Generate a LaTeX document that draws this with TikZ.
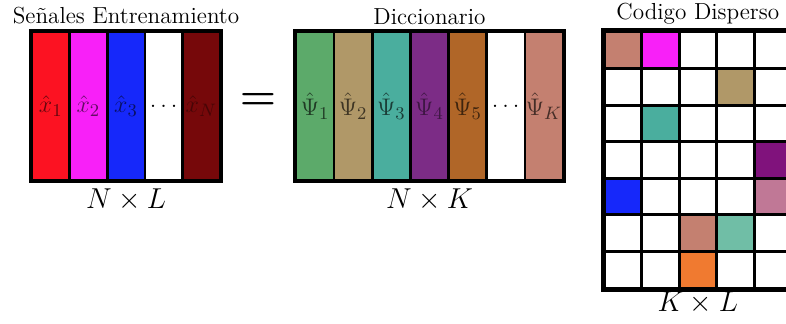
\documentclass[tikz,border=0pt]{standalone}
\usetikzlibrary{positioning}
\usepackage{amsmath,amssymb}
% training signals
\definecolor{sred}{RGB}{252,18,34}
\definecolor{smag}{RGB}{248,32,248}
\definecolor{sblue}{RGB}{22,40,250}
\definecolor{sdark}{RGB}{118,8,10}
% dictionary atoms
\definecolor{dgreen}{RGB}{92,170,106}
\definecolor{dkhaki}{RGB}{176,152,104}
\definecolor{dteal}{RGB}{74,174,158}
\definecolor{dpurple}{RGB}{124,44,134}
\definecolor{dorange}{RGB}{176,102,40}
\definecolor{dsalmon}{RGB}{196,128,112}
% sparse code entries
\definecolor{gpurple}{RGB}{128,18,124}
\definecolor{gpink}{RGB}{192,120,150}
\definecolor{glteal}{RGB}{112,190,166}
\definecolor{gorange}{RGB}{240,122,48}
\tikzset{
  sigcol/.style={draw,line width=1.3pt,minimum width=18.8pt,minimum height=74pt,inner sep=0pt,
    font=\fontsize{13}{15}\selectfont},
  dictcol/.style={sigcol,minimum width=19.07pt},
  cell/.style={draw,line width=1.5pt,fill=white,minimum width=18.75pt,minimum height=18.3pt,inner sep=0pt},
  frame/.style={line width=2pt},
  ttl/.style={font=\fontsize{11.6}{13}\selectfont,inner sep=0pt},
  dimlab/.style={font=\Large,inner sep=0pt},
  code 1-1/.style={fill=dsalmon},
  code 1-2/.style={fill=smag},
  code 2-4/.style={fill=dkhaki},
  code 3-2/.style={fill=dteal},
  code 4-5/.style={fill=gpurple},
  code 5-1/.style={fill=sblue},
  code 5-5/.style={fill=gpink},
  code 6-3/.style={fill=dsalmon},
  code 6-4/.style={fill=glteal},
  code 7-3/.style={fill=gorange},
}

\begin{document}
\begin{tikzpicture}[x=0.5pt,y=-0.5pt]
\useasboundingbox (0,0) rectangle (786,324);

% X = training signals
\foreach \col/\tc/\lab [count=\i] in {sred/sred!40!black/\hat{x}_1,smag/smag!40!black/\hat{x}_2,sblue/sblue!40!black/\hat{x}_3,white/black/\ldots,sdark/sdark!60!black/\hat{x}_N}
  \node[sigcol,fill=\col,text=\tc] (s\i) at (13.2+37.6*\i,106) {$\lab$};
\draw[frame] (s1.north west) rectangle (s5.south east);
\node[ttl,above=3pt of s3] (tsig) {Señales Entrenamiento};
\node[dimlab,below=3.5pt of s3] (nl) {$N\times L$};

\node (eq) at (258,101) {\fontsize{20}{22}\selectfont$\boldsymbol{=}$};

% D = dictionary
\foreach \col/\tc/\lab [count=\i] in {dgreen/dgreen!35!black/\hat{\Psi}_1,dkhaki/dkhaki!35!black/\hat{\Psi}_2,dteal/dteal!35!black/\hat{\Psi}_3,dpurple/dpurple!50!black/\hat{\Psi}_4,dorange/dorange!35!black/\hat{\Psi}_5,white/black/\ldots,dsalmon/dsalmon!35!black/\hat{\Psi}_K}
  \node[dictcol,fill=\col,text=\tc] (d\i) at (276.93+38.14*\i,106) {$\lab$};
\draw[frame] (d1.north west) rectangle (d7.south east);
\node[ttl,above=3pt of d4] (tdict) {Diccionario};
\node[dimlab,below=3.5pt of d4] (nk) {$N\times K$};

% A = sparse code
\foreach \r in {1,...,7}
  \foreach \c in {1,...,5}
    \node[cell,code \r-\c/.try] (c-\r-\c) at (585.25+37.5*\c,13.7+36.6*\r) {};
\draw[frame] (c-1-1.north west) rectangle (c-7-5.south east);
\node[ttl,above=3pt of c-1-3] (tcode) {Codigo Disperso};
\node[dimlab,below=1pt of c-7-3] (kl) {$K\times L$};
\end{tikzpicture}
\end{document}
